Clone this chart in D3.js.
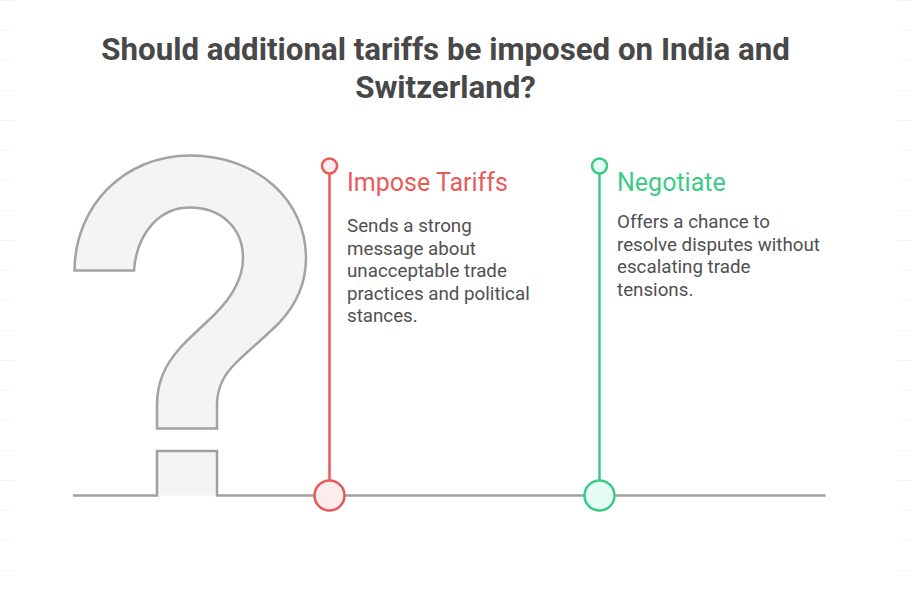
<!DOCTYPE html>
<html>
<head>
<meta charset="utf-8">
<script src="https://cdn.jsdelivr.net/npm/d3@7"></script>
<style>
  html, body { margin: 0; padding: 0; background: #fff; }
  svg { display: block; }
  text { font-family: Roboto, sans-serif; }
</style>
</head>
<body>
<div id="chart"></div>
<script>
const titleLines = ['Should additional tariffs be imposed on India and', 'Switzerland?'];
const options = ['Impose Tariffs', 'Negotiate'];
const descriptions = [
  ['Sends a strong', 'message about', 'unacceptable trade', 'practices and political', 'stances.'],
  ['Offers a chance to', 'resolve disputes without', 'escalating trade', 'tensions.']
];

const width = 912;
const height = 589;

const svg = d3.select('#chart').append('svg')
  .attr('width', width)
  .attr('height', height);

const x = d3.scalePoint().domain(options).range([329.5, 599.5]);
const stroke = d3.scaleOrdinal().domain(options).range(['#e85a5a', '#3ccb86']);
const fill = d3.scaleOrdinal().domain(options).range(['#fdecec', '#e6fdf4']);
const bodyTop = d3.scaleOrdinal().domain(options).range([232, 228]);

// faint marks down both edges
const edgeRows = d3.range(0, height, 30);
[[0, 15], [897, 912]].forEach(([x1, x2]) => {
  svg.append('g').selectAll('line')
    .data(edgeRows)
    .enter().append('line')
    .attr('x1', x1)
    .attr('x2', x2)
    .attr('y1', d => d + 0.5)
    .attr('y2', d => d + 0.5)
    .attr('stroke', '#f6f6f6')
    .attr('stroke-width', 1);
});

svg.selectAll('.title')
  .data(titleLines)
  .enter().append('text')
  .attr('class', 'title')
  .attr('x', 445.5)
  .attr('y', (d, i) => 60 + i * 38)
  .attr('text-anchor', 'middle')
  .attr('font-size', 31.25)
  .attr('font-weight', 700)
  .attr('fill', '#484848')
  .text(d => d);

// question mark
svg.append('path')
  .attr('d', 'M74.5 270.5 C75 205 125 155.5 190 155.5 C257 155.5 306 200 306 258 C306 283 297 304 279 323 C262 340 245 353 232 367 C222 378 217 390 217 405 L217 428.5 L157 428.5 L157 405 C157 382 165 365 180 348 C190 337 203 326 215 314 C232 297 243 279 243 258 C243 229 222 207.5 190 207.5 C160 207.5 137 232 134 270.5 Z')
  .attr('fill', '#f4f4f4')
  .attr('stroke', '#a3a3a3')
  .attr('stroke-width', 2.5)
  .attr('stroke-linejoin', 'miter');

svg.append('rect')
  .attr('x', 157)
  .attr('y', 451)
  .attr('width', 60)
  .attr('height', 44.5)
  .attr('fill', '#f4f4f4');

svg.append('path')
  .attr('d', 'M73 495.5 L157 495.5 L157 451 L217 451 L217 495.5 L825.5 495.5')
  .attr('fill', 'none')
  .attr('stroke', '#a0a0a0')
  .attr('stroke-width', 2.5);

const option = svg.selectAll('.option')
  .data(options)
  .enter().append('g')
  .attr('class', 'option');

option.append('line')
  .attr('x1', d => x(d))
  .attr('x2', d => x(d))
  .attr('y1', 166)
  .attr('y2', 495.5)
  .attr('stroke', d => stroke(d))
  .attr('stroke-width', 2.5);

option.append('circle')
  .attr('cx', d => x(d))
  .attr('cy', 166)
  .attr('r', 7.5)
  .attr('fill', d => fill(d))
  .attr('stroke', d => stroke(d))
  .attr('stroke-width', 2.5);

option.append('circle')
  .attr('cx', d => x(d))
  .attr('cy', 495.5)
  .attr('r', 15)
  .attr('fill', d => fill(d))
  .attr('stroke', d => stroke(d))
  .attr('stroke-width', 2.5);

option.append('text')
  .attr('x', d => x(d) + 17.5)
  .attr('y', 190.5)
  .attr('font-size', 25)
  .attr('fill', d => stroke(d))
  .text(d => d);

option.each(function (d, i) {
  d3.select(this).selectAll('.body')
    .data(descriptions[i])
    .enter().append('text')
    .attr('class', 'body')
    .attr('x', x(d) + 17.5)
    .attr('y', (t, j) => bodyTop(d) + j * 22.5)
    .attr('font-size', 18.75)
    .attr('fill', '#505050')
    .text(t => t);
});
</script>
</body>
</html>
